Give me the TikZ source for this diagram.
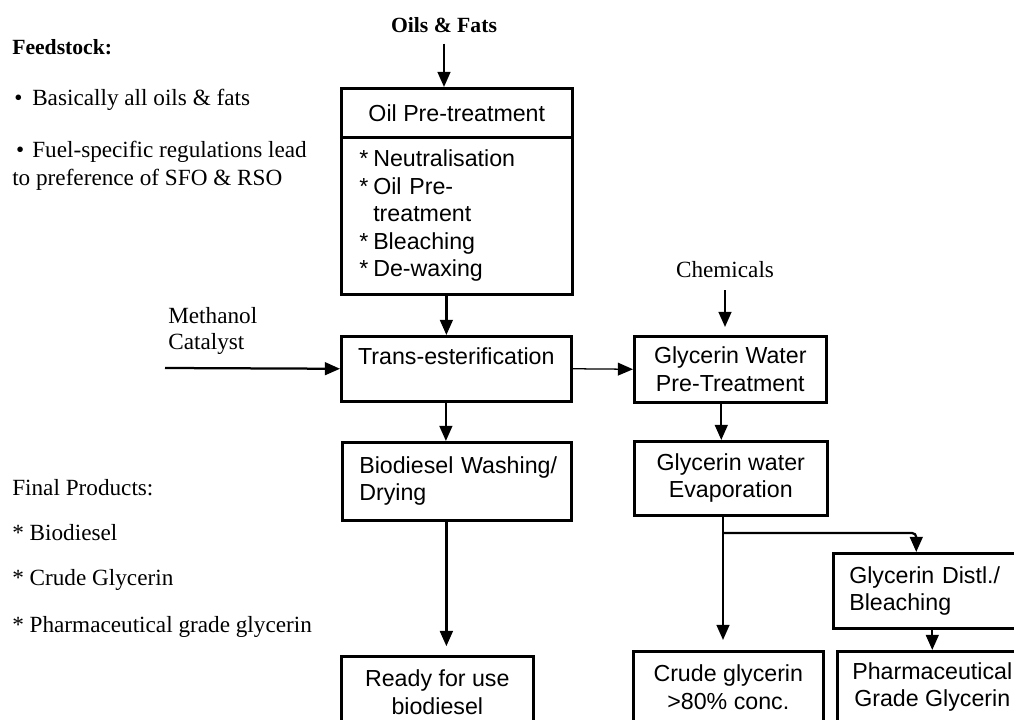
\documentclass[tikz,border=0pt]{standalone}
\usepackage{fontspec}
\setmainfont{Liberation Serif}
\setsansfont{Liberation Sans}
\usepackage{tikz}
\usetikzlibrary{arrows.meta}
\tikzset{
	box/.style={
		shape=rectangle,
		draw,
		line width=1.8pt,
		inner sep=0pt,
		anchor=north west,
		align=center,
		font=\sffamily\fontsize{16.5}{19.5}\selectfont
	},
	leftbox/.style={
		box,
		align=left
	},
	note/.style={
		anchor=west,
		align=left,
		inner sep=0pt,
		font=\fontsize{16.5}{19.9}\selectfont
	},
	boldnote/.style={
		note,
		font=\fontsize{15.4}{18}\selectfont\bfseries
	},
	arr/.style={-{Triangle[length=0.38cm,width=0.32cm]}, line width=1.6pt},
	thinarr/.style={-{Triangle[length=0.38cm,width=0.32cm]}, line width=0.9pt}
}

\begin{document}
\begin{tikzpicture}[x=0.025cm, y=-0.025cm]
\clip (0,0) rectangle (1014,720);

\node [boldnote] (feed) at (12,47) {Feedstock:};
\node [note] (feedA) at (14,100) {\makebox[0.45cm][l]{\textbullet}Basically all oils \& fats};
\node [note] (feedB) at (12,166) {\makebox[0.5cm][l]{\,\textbullet}Fuel-specific regulations lead\\to preference of SFO \& RSO};
\node [note] (final) at (12,488) {Final Products:};
\node [note] (finalA) at (12,533) {* Biodiesel};
\node [note] (finalB) at (12,580) {* Crude Glycerin};
\node [note] (finalC) at (12,627) {* Pharmaceutical grade glycerin};

\node [boldnote, anchor=center] (oils) at (444,25) {Oils \& Fats};
\node [note, anchor=center] (chem) at (725,270) {Chemicals};
\node [note, font=\fontsize{16.5}{18.5}\selectfont] (methlabel) at (168,331) {Methanol\\Catalyst};
\coordinate (meth) at (165,368);

\node [box, minimum width=5.775cm, minimum height=1.225cm] (pre) at (340,87) {Oil Pre-treatment};
\node [leftbox, minimum width=5.775cm, minimum height=3.925cm, text width=4.875cm] (list) at (340,136)
	{\makebox[0.35cm][l]{*}Neutralisation\\
	 \makebox[0.35cm][l]{*}Oil Pre-\\
	 \hspace*{0.35cm}treatment\\
	 \makebox[0.35cm][l]{*}Bleaching\\
	 \makebox[0.35cm][l]{*}De-waxing};
\node [box, minimum width=5.75cm, minimum height=1.625cm] (trans) at (340,335) {Trans-esterification\\[-8pt]\strut};
\node [box, minimum width=4.8cm, minimum height=1.65cm] (gwpre) at (633,335) {Glycerin Water\\Pre-Treatment};
\node [leftbox, minimum width=5.725cm, minimum height=1.95cm, text width=4.875cm] (bio) at (341,441) {\mbox{Biodiesel Washing/}\\Drying};
\node [box, minimum width=4.825cm, minimum height=1.85cm] (evap) at (633,440) {Glycerin water\\Evaporation};
\node [leftbox, minimum width=4.95cm, minimum height=1.875cm, text width=4.15cm] (distl) at (832,552) {Glycerin Distl./\\Bleaching};
\node [box, minimum width=4.8cm, minimum height=1.8cm] (ready) at (340,655) {Ready for use\\biodiesel};
\node [box, minimum width=4.75cm, minimum height=1.8cm] (crude) at (632,650) {Crude glycerin\\>80\% conc.};
\node [box, minimum width=4.75cm, minimum height=1.8cm] (pharm) at (836,650) {Pharmaceutical\\Grade Glycerin};
\coordinate (split) at (723,533);

\draw [arr, shorten <=0.27cm] (oils.south) -- (oils.south |- pre.north);
\draw [arr] ([xshift=-0.26cm]list.south) -- ([xshift=-0.26cm]list.south |- trans.north);
\draw [arr] ([xshift=-0.26cm]trans.south) -- ([xshift=-0.26cm]trans.south |- bio.north);
\draw [arr, shorten >=0.22cm] ([xshift=-0.26cm]bio.south) -- ([xshift=-0.26cm]bio.south |- ready.north);
\draw [arr] (meth) -- (trans.west);
\draw [thinarr] (trans.east) -- (gwpre.west);
\draw [arr, shorten <=0.3cm, shorten >=0.2cm] (chem.south) -- (chem.south |- gwpre.north);
\draw [arr] ([xshift=-0.225cm]gwpre.south) -- ([xshift=-0.225cm]gwpre.south |- evap.north);
\draw [arr, shorten >=0.25cm] (evap.south -| split) -- (split |- crude.north);
\draw [arr, rounded corners=3pt] (split) -| ([xshift=-0.4cm]distl.north);
\draw [arr] (distl.south) -- (distl.south |- pharm.north);

\end{tikzpicture}
\end{document}
